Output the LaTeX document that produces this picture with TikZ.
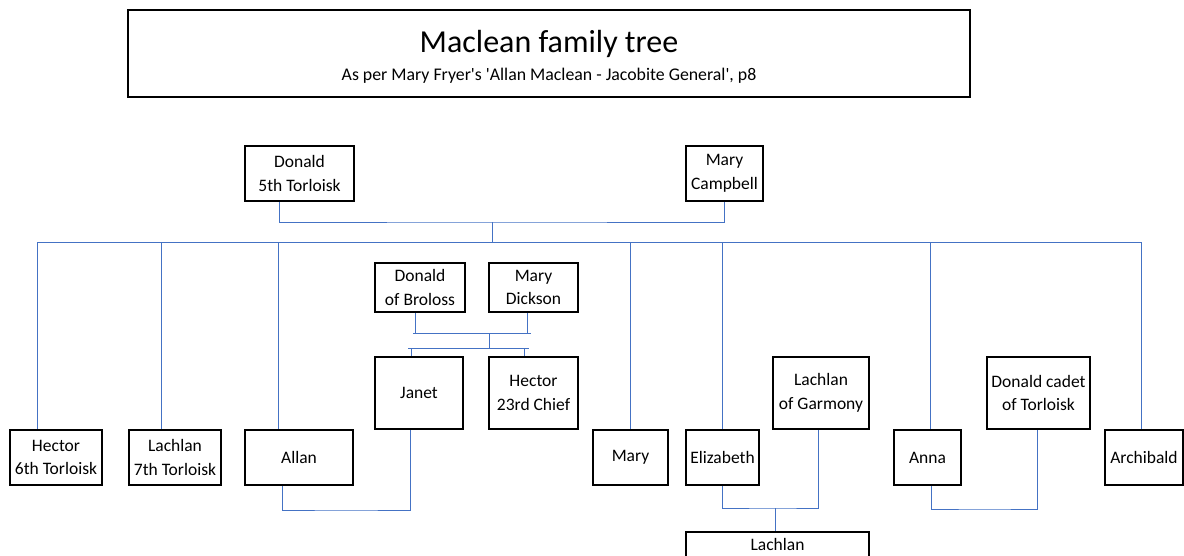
\documentclass[tikz,border=0pt]{standalone}
\usepackage{fontspec}
\setmainfont{Carlito}[Ligatures=TeXOff]
\usetikzlibrary{positioning}
\definecolor{linkblue}{HTML}{4472C4}
\tikzset{pers/.style={draw, line width=2.2pt, minimum height=55, align=center, inner sep=1pt, font=\fontsize{17.5}{23.5}\selectfont}}
\tikzset{link/.style={draw=linkblue, line width=1pt}}

\begin{document}
\begin{tikzpicture}[x=1pt, y=-1pt]
        \useasboundingbox (0,0) rectangle (1184,555);

        \node[draw, line width=2.2pt, minimum width=842, minimum height=87] (title) at (549,53.5) {};
        \node[align=center] (heading) at (549,57)
          {{\fontsize{32}{36}\selectfont Maclean family tree}\\[9pt]
           {\fontsize{17.8}{20}\selectfont As per Mary Fryer's 'Allan Maclean - Jacobite General', p8}};

        % parents
        \node[pers, minimum width=109] (donald5) at (299.5,173.5) {Donald\\5th Torloisk};
        \node[pers, minimum width=77] (maryc) at (724.5,173.5) {Mary\\Campbell};

        % children
        \node[pers, minimum width=92] (hector6) at (56,457.5) {Hector\\6th Torloisk};
        \node[pers, minimum width=92] (lachlan7) at (175,457.5) {Lachlan\\7th Torloisk};
        \node[pers, minimum width=108] (allan) at (299,457.5) {Allan};
        \node[pers, minimum width=75] (mary) at (630.5,457.5) {Mary};
        \node[pers, minimum width=73] (elizabeth) at (722.5,457.5) {Elizabeth};
        \node[pers, minimum width=67] (anna) at (927.5,457.5) {Anna};
        \node[pers, minimum width=78] (archibald) at (1144,457.5) {Archibald};

        % in-laws
        \node[pers, minimum width=90, minimum height=49] (broloss) at (420,287.5) {Donald\\of Broloss};
        \node[pers, minimum width=89, minimum height=49] (dickson) at (533.5,287.5) {Mary\\Dickson};
        \node[pers, minimum width=88, minimum height=72] (janet) at (419,393) {Janet};
        \node[pers, minimum width=89, minimum height=72] (hector23) at (533.5,393) {Hector\\23rd Chief};
        \node[pers, minimum width=96, minimum height=72] (garmony) at (821,393) {Lachlan\\of Garmony};
        \node[pers, minimum width=103, minimum height=72] (cadet) at (1038.5,393) {Donald cadet\\of Torloisk};
        \node[pers, minimum width=183, anchor=north] (lachlan) at (777.5,531) {Lachlan\\\strut};

        \coordinate (m1) at (492,222);
        \coordinate (bus) at (492,242);
        \coordinate (m2) at (489,333);
        \coordinate (bus2) at (489,348);
        \coordinate (m3) at (346,510);
        \coordinate (m4) at (775,508);
        \coordinate (m5) at (985,509);

        \draw[link] ([xshift=-20]donald5.south) |- (m1) -| (maryc.south);
        \draw[link] (m1) -- (bus);
        \draw[link] ([xshift=-19]hector6.north |- bus) -- ([xshift=-3]archibald.north |- bus);
        \foreach \kid/\dx in {hector6/-19, lachlan7/-14, allan/-21, mary/0, elizabeth/0, anna/3, archibald/-3}
          \draw[link] ([xshift=\dx]\kid.north |- bus) -- ([xshift=\dx]\kid.north);

        \draw[link] ([xshift=-7]broloss.south |- m2) -- ([xshift=-3]dickson.south |- m2);
        \draw[link] ([xshift=-5]broloss.south) -- ([xshift=-5]broloss.south |- m2);
        \draw[link] ([xshift=-6]dickson.south) -- ([xshift=-6]dickson.south |- m2);
        \draw[link] (m2) -- (bus2);
        \draw[link] ([xshift=-8]janet.north |- bus2) -- ([xshift=-8]janet.north);
        \draw[link] ([xshift=-9.5]hector23.north |- bus2) -- ([xshift=-9.5]hector23.north);
        \draw[link] ([xshift=-11]janet.north |- bus2) -- ([xshift=-5]hector23.north |- bus2);

        \draw[link] ([xshift=-17]allan.south) |- (m3) -| ([xshift=-9]janet.south);
        \draw[link] (elizabeth.south) |- (m4) -| ([xshift=-3]garmony.south);
        \draw[link] (m4) -- (m4 |- lachlan.north);
        \draw[link] ([xshift=4]anna.south) |- (m5) -| ([xshift=-1.5]cadet.south);
    \end{tikzpicture}
\end{document}
